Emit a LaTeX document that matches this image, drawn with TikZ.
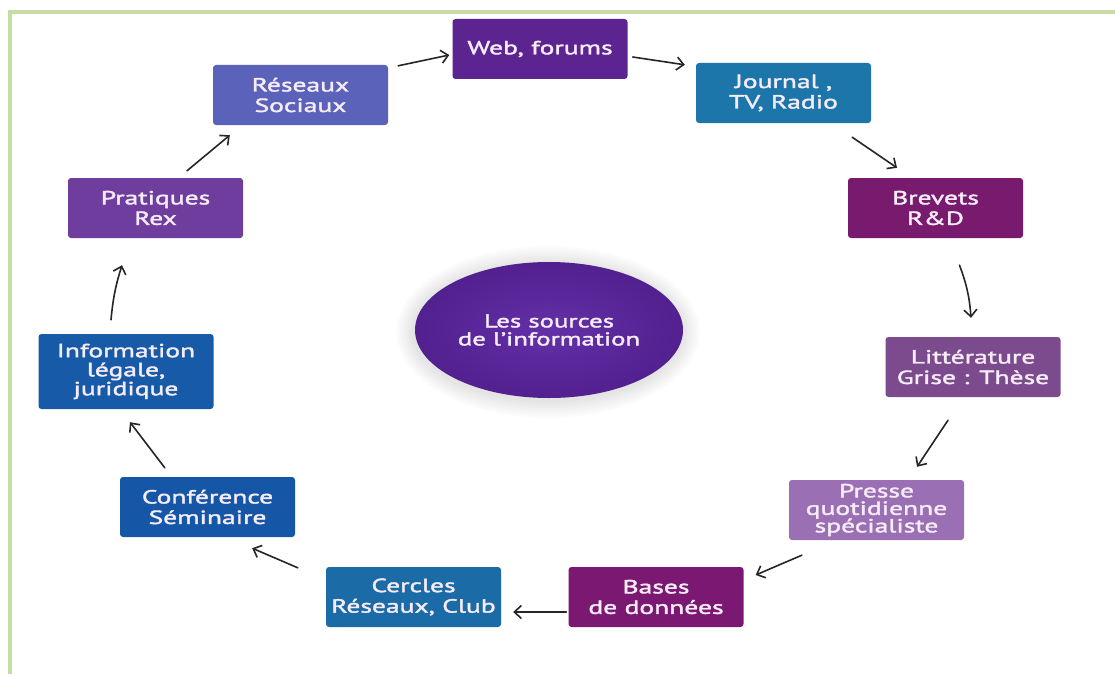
\documentclass[tikz,border=0pt]{standalone}
\usepackage{fontspec}
\setmainfont{PT Sans}[FakeStretch=1.45,FakeBold=2]
\usetikzlibrary{arrows.meta,calc,shapes.geometric}

\definecolor{frameGreen}{HTML}{C6DCA2}
\definecolor{boxText}{HTML}{F5ECF6}
\definecolor{cWeb}{HTML}{5B2491}
\definecolor{cJournal}{HTML}{1D76A9}
\definecolor{cBrevets}{HTML}{781A6E}
\definecolor{cLitt}{HTML}{7C4B8E}
\definecolor{cPresse}{HTML}{9B6FB3}
\definecolor{cBases}{HTML}{7B1872}
\definecolor{cCercles}{HTML}{1B6BA6}
\definecolor{cConf}{HTML}{1557A6}
\definecolor{cInfo}{HTML}{175AA7}
\definecolor{cPrat}{HTML}{6F3D9E}
\definecolor{cReseaux}{HTML}{5A62B9}
\definecolor{hubInner}{HTML}{6430A8}
\definecolor{hubOuter}{HTML}{52208F}

\begin{document}
\begin{tikzpicture}[x=1pt,y=-1pt,
  box/.style={rounded corners=3pt, minimum width=175pt, minimum height=60pt,
    inner sep=0pt, align=center, text=boxText,
    font=\fontsize{19}{20.5}\selectfont},
  tight/.style={font=\fontsize{19}{17.5}\selectfont},
  link/.style={-{Straight Barb[length=7pt,width=13pt]}, line width=1.6pt,
    line cap=round, black!85}
]
\useasboundingbox (0,0) rectangle (1115,674);
\fill[white] (0,0) rectangle (1115,674);

% frame lines along the top and left edges
\draw[frameGreen, line width=4pt] (10,674) -- (10,11.7) -- (1115,11.7);

% soft halo behind the central ellipse
\foreach \i in {1,...,9}
  \fill[black, opacity=0.01] (548,332) ellipse ({134+2*\i} and {68+2*\i});

% central hub
\node[ellipse, minimum width=268pt, minimum height=136pt, inner sep=0pt,
      inner color=hubInner, outer color=hubOuter, align=center, text=boxText,
      font=\fontsize{18.5}{18}\selectfont] (hub) at (549,330)
  {Les sources\\de l’information};

% sources of information around the hub
\node[box, fill=cWeb]     (web)     at (540,49)    {Web, forums};
\node[box, fill=cJournal] (journal) at (783.5,93)  {Journal ,\\TV, Radio};
\node[box, fill=cBrevets] (brevets) at (935.5,208) {Brevets\\R\&D};
\node[box, fill=cLitt]    (litt)    at (973,367)   {Littérature\\Grise : Thèse};
\node[box, tight, fill=cPresse] (presse) at (876.5,510) {Presse\\quotidienne\\spécialiste};
\node[box, fill=cBases]   (bases)   at (656,597)   {Bases\\de données};
\node[box, fill=cCercles] (cercles) at (413.5,597) {Cercles\\Réseaux, Club};
\node[box, fill=cConf]    (conf)    at (207.5,507) {Conférence\\Séminaire};
\node[box, fill=cInfo, minimum height=75pt, font=\fontsize{19}{19}\selectfont]
  (info) at (126,371.5) {Information\\légale,\\juridique};
\node[box, fill=cPrat]    (prat)    at (155.5,208) {Pratiques\\Rex};
\node[box, fill=cReseaux] (reseaux) at (300.5,95)  {Réseaux\\Sociaux};

% the cycle of arrows
\draw[link] ($(reseaux.north east)+(10,1)$) -- ($(web.west)+(-3,6)$);
\draw[link] ($(web.east)+(5,8)$) -- ($(journal.north west)+(-11,2)$);
\draw[link] ($(journal.south east)+(-19,14)$) -- ($(brevets.north)+(-38.5,-10)$);
\draw[link] ($(brevets.south)+(24,27)$) to[bend left=8] ($(litt.north)+(-2,-19)$);
\draw[link] ($(litt.south)+(-25,23)$) -- ($(presse.north)+(40.5,-13)$);
\draw[link] ($(presse.south west)+(13,15)$) -- ($(bases.east)+(12,-22)$);
\draw[link] ($(bases.west)+(-2,15)$) -- ($(cercles.east)+(12,15)$);
\draw[link] ($(cercles.north west)+(-28,1)$) -- ($(conf.south east)+(-43,11)$);
\draw[link] ($(conf.north west)+(45,-9)$) -- ($(info.south)+(4,13)$);
\draw[link] ($(info.north)+(-15,-14)$) to[bend left=6] ($(prat.south)+(-33.5,27)$);
\draw[link] ($(prat.north)+(31.5,-7)$) -- ($(reseaux.south west)+(17,10)$);
\end{tikzpicture}
\end{document}
